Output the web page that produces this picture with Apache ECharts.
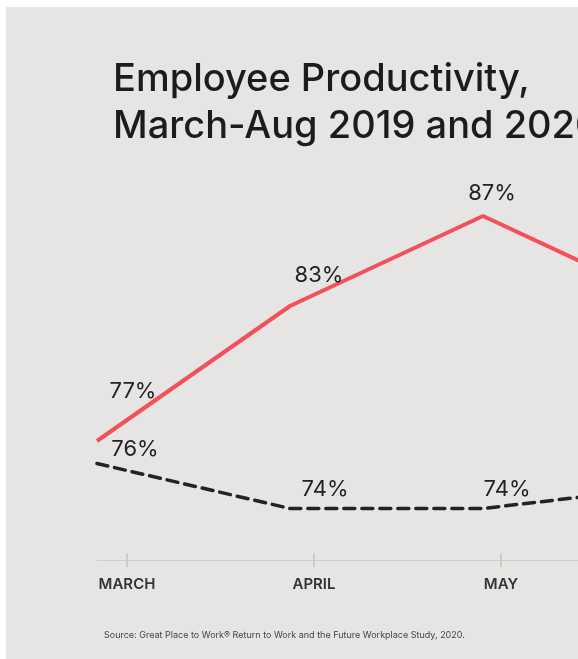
<!DOCTYPE html>
<html>
<head>
<meta charset="utf-8">
<script src="https://cdn.jsdelivr.net/npm/echarts@6/dist/echarts.min.js"></script>
<style>
  html, body { margin: 0; padding: 0; background: #fff; }
  #chart { width: 578px; height: 659px; }
</style>
</head>
<body>
<div id="chart"></div>
<script>
const months = ['MARCH', 'APRIL', 'MAY', 'JUNE']
const productivity2020 = [77, 83, 87, 83]
const productivity2019 = [76, 74, 74, 75]

// label nudges, px from each point
const redLabelShift = [[36, -50], [29, -31], [9, -23], [0, -25]]
const blackLabelShift = [[38, -14], [35, -19], [24, -19], [0, -20]]

const FONT = 'Inter'
const toItems = (vals, shifts) =>
  vals.map((v, i) => ({ value: v, label: { offset: shifts[i] } }))

const chart = echarts.init(document.getElementById('chart'))
const yRange = { min: 71.7, max: 90 }

chart.setOption({
  backgroundColor: '#ffffff',
  animation: false,
  title: {
    text: 'Employee Productivity,\nMarch-Aug 2019 and 2020',
    left: 108,
    top: 51,
    textStyle: {
      fontFamily: FONT,
      fontSize: 38,
      fontWeight: 500,
      lineHeight: 47,
      color: '#1c1c1c'
    }
  },
  graphic: [
    {
      type: 'rect',
      z: -100,
      shape: { x: 6, y: 7, width: 572, height: 652 },
      style: { fill: '#e6e5e3' }
    },
    {
      type: 'text',
      left: 104,
      top: 631,
      style: {
        text: 'Source: Great Place to Work\u00ae Return to Work and the Future Workplace Study, 2020.',
        font: '9px ' + FONT,
        fill: '#444444'
      }
    }
  ],
  grid: [
    { left: 97, width: 579, top: 148.5, height: 411.75, outerBoundsMode: 'none' },
    { left: 127, width: 561, top: 148.5, height: 411.75, outerBoundsMode: 'none' }
  ],
  xAxis: [
    {
      type: 'category',
      gridIndex: 0,
      data: months,
      boundaryGap: false,
      axisLine: { lineStyle: { color: '#cfcecc', width: 1 } },
      axisTick: { show: false },
      axisLabel: { show: false }
    },
    {
      type: 'category',
      gridIndex: 1,
      data: months,
      boundaryGap: false,
      offset: -7,
      axisLine: { show: false },
      axisTick: { show: true, length: 14, lineStyle: { color: '#c4c3c1', width: 1.5 } },
      axisLabel: {
        margin: 24,
        fontFamily: FONT,
        fontSize: 15,
        fontWeight: 600,
        color: '#333333'
      }
    }
  ],
  yAxis: [
    { type: 'value', gridIndex: 0, ...yRange, show: false },
    { type: 'value', gridIndex: 1, ...yRange, show: false }
  ],
  series: [
    {
      name: '2019',
      type: 'line',
      xAxisIndex: 0,
      yAxisIndex: 0,
      data: toItems(productivity2019, blackLabelShift),
      symbol: 'circle',
      symbolSize: 0,
      lineStyle: { color: '#232323', width: 3.5, type: [11, 7], cap: 'round' },
      label: {
        show: true,
        position: 'inside',
        formatter: '{c}%',
        fontFamily: FONT,
        fontSize: 22,
        color: '#222222'
      }
    },
    {
      name: '2020',
      type: 'line',
      xAxisIndex: 0,
      yAxisIndex: 0,
      data: toItems(productivity2020, redLabelShift),
      symbol: 'circle',
      symbolSize: 0,
      lineStyle: { color: '#f2505a', width: 4 },
      label: {
        show: true,
        position: 'inside',
        formatter: '{c}%',
        fontFamily: FONT,
        fontSize: 22,
        color: '#222222'
      }
    }
  ]
})
</script>
</body>
</html>
